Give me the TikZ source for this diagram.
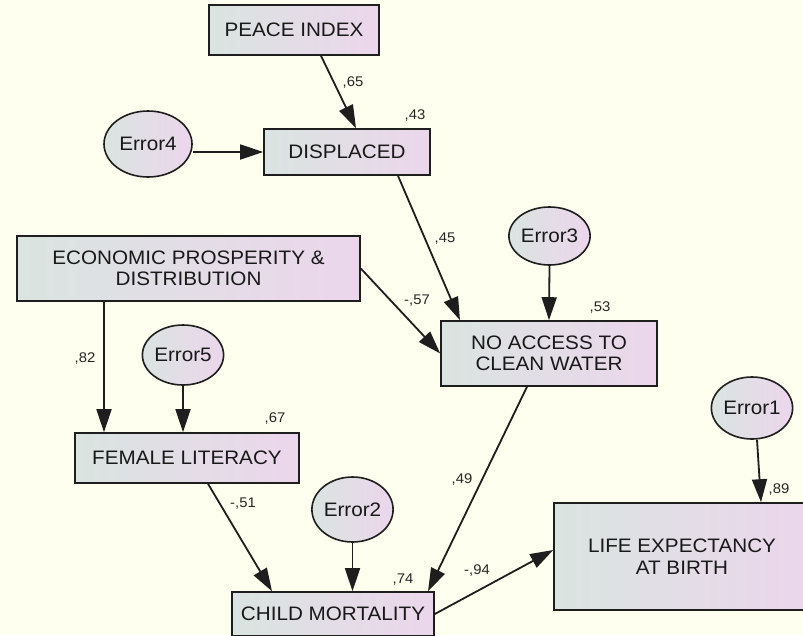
\documentclass[tikz,border=0pt]{standalone}
\usepackage{fontspec}
\setmainfont[FakeStretch=1.06]{Liberation Sans}
\usepackage{tikz}
\usetikzlibrary{arrows.meta, shapes.geometric}
\definecolor{paper}{RGB}{255,255,240}
\definecolor{boxleft}{RGB}{218,228,224}
\definecolor{boxright}{RGB}{236,214,236}
\definecolor{edge}{RGB}{30,30,30}

\begin{document}
\begin{tikzpicture}[x=1pt,y=-1pt,
   var/.style={draw=edge,line width=1.6pt,left color=boxleft,right color=boxright,
      inner sep=0pt,align=center,text=black!90,font=\fontsize{19.5}{21.5}\selectfont},
   err/.style={var,ellipse},
   arr/.style={-{Triangle[length=23pt,width=15pt]},line width=1.8pt,draw=edge},
   coef/.style={inner sep=0pt,text=black!85,font=\fontsize{14}{15}\selectfont}]
   \fill[paper] (0,0) rectangle (803,635);
   \useasboundingbox (0,0) rectangle (803,635);
   \clip (0,0) rectangle (803,635);
   \node[var,minimum width=170,minimum height=50] (peace) at (294,30) {PEACE INDEX};
   \node[var,minimum width=166,minimum height=46] (displaced) at (347,152) {DISPLACED};
   \node[err,minimum width=88,minimum height=66] (error4) at (148,144) {Error4};
   \node[var,minimum width=343,minimum height=65] (econ) at (188.5,268.5)
      {ECONOMIC PROSPERITY \&\\DISTRIBUTION};
   \node[err,minimum width=63,minimum height=58] (error3) at (549.5,236) {Error3};
   \node[var,minimum width=216,minimum height=65] (water) at (549,353.5)
      {NO ACCESS TO\\CLEAN WATER};
   \node[err,minimum width=68,minimum height=60] (error5) at (183,355) {Error5};
   \node[var,minimum width=224,minimum height=50] (literacy) at (187,458) {FEMALE LITERACY};
   \node[err,minimum width=71,minimum height=65] (error2) at (352.5,509.5) {Error2};
   \node[var,minimum width=202,minimum height=44] (mortality) at (333,614) {CHILD MORTALITY};
   \node[err,minimum width=78,minimum height=62] (error1) at (752,408) {Error1};
   \node[var,minimum width=256,minimum height=107] (life) at (682,556.5)
      {LIFE EXPECTANCY\\AT BIRTH};

   \draw[arr] ([xshift=27pt]peace.south) -- ([xshift=9pt]displaced.north);
   \draw[arr] (error4.east |- displaced.west) -- (displaced.west);
   \draw[arr] ([xshift=51pt]displaced.south) -- ([xshift=-89pt]water.north);
   \draw[arr] (error3.south) -- (water.north);
   \draw[arr] (econ.east) -- (water.west);
   \draw[arr] ([xshift=-84.5pt]econ.south) coordinate (econfoot) -- (econfoot |- literacy.north);
   \draw[arr] (error5.south) -- (error5.south |- literacy.north);
   \draw[arr] ([xshift=21pt]literacy.south) -- ([xshift=-61pt]mortality.north);
   \draw[arr] (error2.south) -- (error2.south |- mortality.north);
   \draw[arr] ([xshift=-22pt]water.south) -- ([xshift=95pt]mortality.north);
   \draw[arr] (mortality.east) -- ([yshift=6.5pt]life.west);
   \draw[arr] ([xshift=5pt]error1.south) -- ([xshift=79pt]life.north);

   \node[coef] (c65) at (353,83) {,65};
   \node[coef] (c43) at (415,116) {,43};
   \node[coef] (c45) at (445,239) {,45};
   \node[coef] (c57) at (417,301) {-,57};
   \node[coef] (c53) at (600,308) {,53};
   \node[coef] (c82) at (85,359) {,82};
   \node[coef] (c67) at (275,419) {,67};
   \node[coef] (c51) at (243,504) {-,51};
   \node[coef] (c49) at (462,479) {,49};
   \node[coef] (c74) at (403,580) {,74};
   \node[coef] (c94) at (477,570) {-,94};
   \node[coef] (c89) at (779,489) {,89};
\end{tikzpicture}
\end{document}
